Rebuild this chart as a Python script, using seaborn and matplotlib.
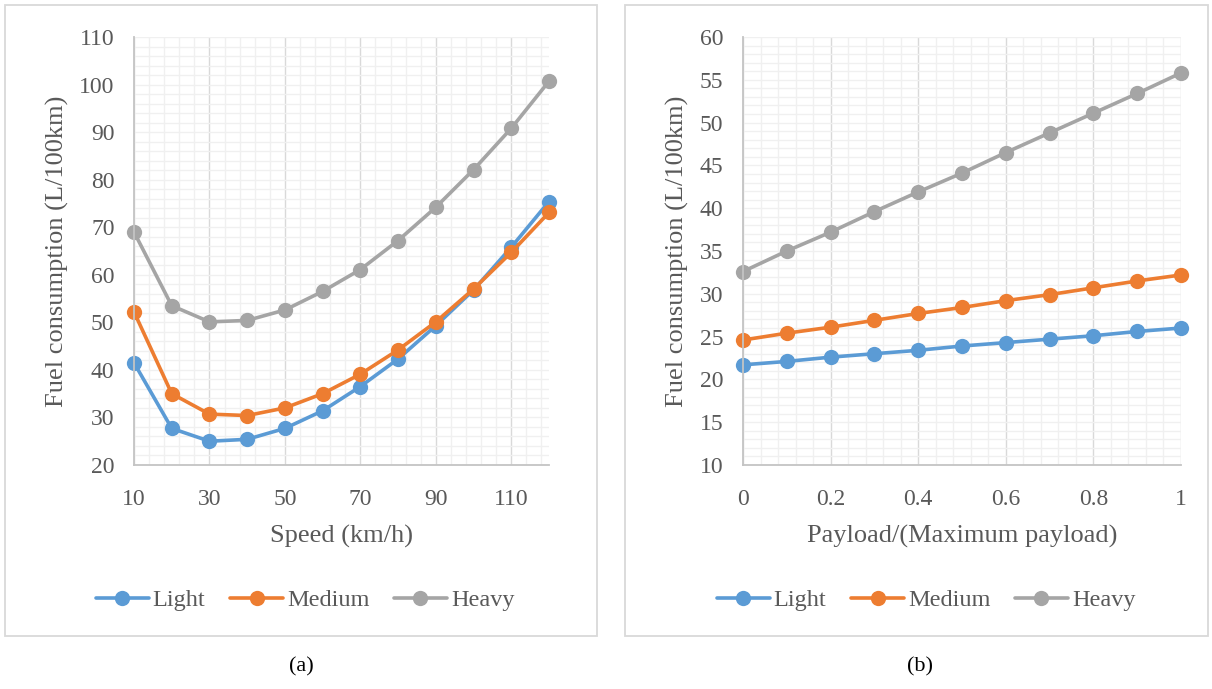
"""Fuel consumption vs speed and payload, two panels."""

import matplotlib.pyplot as plt
import pandas as pd
import seaborn as sns
from matplotlib.patches import Rectangle
from matplotlib.ticker import MultipleLocator

# panel (a): speed
speed = [10, 20, 30, 40, 50, 60, 70, 80, 90, 100, 110, 120]
light_speed = [41.5, 27.7, 25.0, 25.4, 27.7, 31.4, 36.5, 42.3, 49.3, 56.8, 65.8, 75.4]
medium_speed = [52.2, 35.0, 30.7, 30.4, 32.0, 35.0, 39.1, 44.2, 50.1, 57.0, 64.7, 73.1]
heavy_speed = [69.0, 53.5, 50.1, 50.4, 52.6, 56.5, 61.1, 67.2, 74.2, 82.1, 90.8, 100.7]

# panel (b): payload ratio
payload = [0.0, 0.1, 0.2, 0.3, 0.4, 0.5, 0.6, 0.7, 0.8, 0.9, 1.0]
light_payload = [21.7, 22.1, 22.6, 23.0, 23.4, 23.9, 24.3, 24.7, 25.1, 25.6, 26.0]
medium_payload = [24.6, 25.4, 26.1, 26.9, 27.7, 28.4, 29.2, 29.9, 30.7, 31.5, 32.2]
heavy_payload = [32.6, 35.0, 37.2, 39.6, 41.9, 44.1, 46.5, 48.8, 51.1, 53.4, 55.8]

series = ["Light", "Medium", "Heavy"]
colors = {"Light": "#5B9BD5", "Medium": "#ED7D31", "Heavy": "#A5A5A5"}
TEXT = "#595959"
W, H = 1212, 689


def long_frame(x, values, xname):
    rows = []
    for name, ys in zip(series, values):
        for xi, yi in zip(x, ys):
            rows.append({xname: xi, "value": yi, "Load": name})
    return pd.DataFrame(rows)


def style_axis(ax, xlim, ylim, xmajor, xminor, ymajor, yminor, xlabel,
               xoffset=0, xfmt=None, ylabel_x=-0.18):
    ax.set_xlim(*xlim)
    ax.set_ylim(*ylim)
    ax.xaxis.set_major_locator(MultipleLocator(xmajor, offset=xoffset))
    ax.xaxis.set_minor_locator(MultipleLocator(xminor, offset=xoffset % xminor))
    ax.yaxis.set_major_locator(MultipleLocator(ymajor))
    ax.yaxis.set_minor_locator(MultipleLocator(yminor))
    if xfmt:
        ax.xaxis.set_major_formatter(xfmt)
    ax.set_axisbelow(True)
    ax.grid(which="minor", axis="both", color="#f0f0f0", linewidth=1.0)
    ax.grid(which="major", axis="y", color="#f0f0f0", linewidth=1.0)
    ax.grid(which="major", axis="x", color="#d9d9d9", linewidth=1.0)
    for side in ["top", "right"]:
        ax.spines[side].set_visible(False)
    for side in ["left", "bottom"]:
        ax.spines[side].set_color("#c4c4c4")
        ax.spines[side].set_linewidth(1.3)
    ax.tick_params(which="both", length=0, labelsize=17, colors=TEXT)
    ax.tick_params(axis="x", pad=17)
    ax.tick_params(axis="y", pad=14)
    ax.set_xlabel(xlabel, fontsize=19, color=TEXT, labelpad=11)
    ax.set_ylabel("Fuel consumption (L/100km)", fontsize=19, color=TEXT)
    ax.yaxis.label.set_va("center")
    ax.yaxis.set_label_coords(ylabel_x, 0.5)


sns.set_theme(style="white")
plt.rcParams["font.family"] = ["Liberation Serif", "DejaVu Serif"]

fig = plt.figure(figsize=(W / 100, H / 100), dpi=100)
ax_a = fig.add_axes([134 / W, 1 - 465 / H, (549 - 134) / W, (465 - 37) / H])
ax_b = fig.add_axes([743 / W, 1 - 465 / H, (1181 - 743) / W, (465 - 37) / H])

df_a = long_frame(speed, [light_speed, medium_speed, heavy_speed], "speed")
df_b = long_frame(payload, [light_payload, medium_payload, heavy_payload], "payload")

line_kw = dict(hue="Load", hue_order=series, palette=colors, marker="o",
               markersize=11, markeredgewidth=0, linewidth=2.6)
sns.lineplot(data=df_a, x="speed", y="value", ax=ax_a, **line_kw)
sns.lineplot(data=df_b, x="payload", y="value", ax=ax_b, **line_kw)

for ax in (ax_a, ax_b):
    for line in ax.lines:
        line.set_clip_on(False)


def payload_fmt(v, pos):
    if abs(v) < 1e-9:
        return "0"
    if abs(v - 1) < 1e-9:
        return "1"
    return f"{v:.1f}"


style_axis(ax_a, (10, 120), (20, 110), 20, 4, 10, 2, "Speed (km/h)",
           xoffset=10, ylabel_x=(57 - 134) / 415)
style_axis(ax_b, (0, 1), (10, 60), 0.2, 0.04, 5, 1, "Payload/(Maximum payload)",
           xfmt=payload_fmt, ylabel_x=(677 - 743) / 438)

# legends below each panel
for ax, cx in ((ax_a, 305), (ax_b, 926)):
    handles, labels = ax.get_legend_handles_labels()
    ax.get_legend().remove()
    fig.legend(handles, labels, loc="center", bbox_to_anchor=(cx / W, 1 - 600 / H),
               ncol=3, frameon=False, fontsize=17.5, labelcolor=TEXT,
               handlelength=2.2, handletextpad=0.15, columnspacing=1.0)

# chart frames
for x0, x1 in ((5, 597), (625, 1208)):
    fig.patches.append(Rectangle((x0 / W, 1 - 636 / H), (x1 - x0) / W, 631 / H,
                                 transform=fig.transFigure, fill=False,
                                 edgecolor="#d9d9d9", linewidth=1.3))

fig.text(301 / W, 1 - 667 / H, "(a)", ha="center", va="center", fontsize=16, color="black")
fig.text(920 / W, 1 - 667 / H, "(b)", ha="center", va="center", fontsize=16, color="black")

fig.savefig("out.png", dpi=100)
